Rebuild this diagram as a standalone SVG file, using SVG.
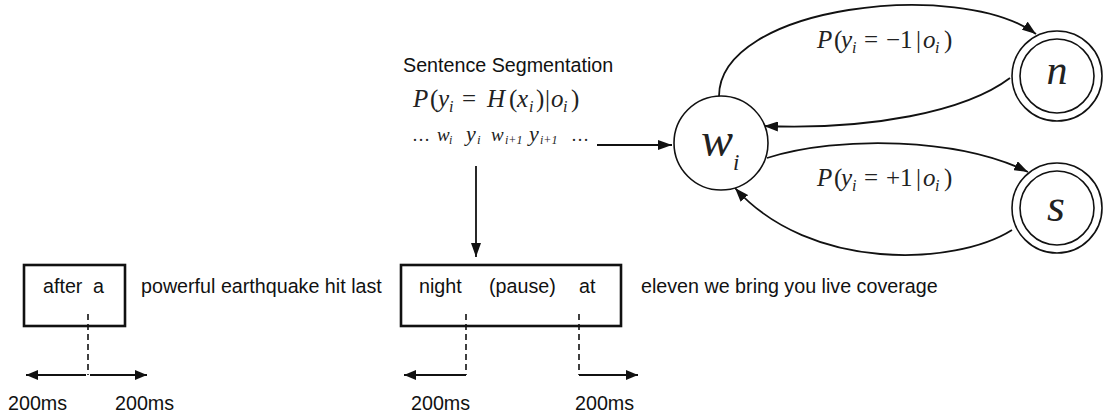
<svg xmlns="http://www.w3.org/2000/svg" width="1108" height="418" viewBox="0 0 1108 418">
<style>
.sans{font-family:"Liberation Sans",Arial,sans-serif;font-size:19.7px;fill:#111}
.math{font-family:"Liberation Serif","Times New Roman",serif;fill:#222}
.it{font-style:italic}
.sub{font-style:italic;font-size:16px}
.box{fill:#fff;stroke:#111;stroke-width:2.6}
.node{fill:#fff;stroke:#111;stroke-width:1.6}
.edge{fill:none;stroke:#111;stroke-width:1.8}
.dash{fill:none;stroke:#111;stroke-width:1.6;stroke-dasharray:6,4}
</style>
<defs>
<marker id="ah" viewBox="0 0 12 10" refX="12" refY="5" markerWidth="12" markerHeight="10" markerUnits="userSpaceOnUse" orient="auto">
<path d="M0,0 L12,5 L0,10 z" fill="#111"/>
</marker>
<marker id="ah2" viewBox="0 0 14 10" refX="14" refY="5" markerWidth="14" markerHeight="10" markerUnits="userSpaceOnUse" orient="auto">
<path d="M0,0 L14,5 L0,10 z" fill="#111"/>
</marker>
</defs>

<g id="connectors">
<line class="edge" x1="597" y1="145" x2="672" y2="145" marker-end="url(#ah2)"/>
<line class="edge" x1="476" y1="166" x2="476" y2="257" marker-end="url(#ah2)"/>
<path class="edge" d="M719,97 C718,5 960,-22 1036,34" marker-end="url(#ah2)"/>
<path class="edge" d="M1010,78 C965,112 870,130 764,126" marker-end="url(#ah2)"/>
<path class="edge" d="M767,158 C840,135 960,138 1028,172" marker-end="url(#ah2)"/>
<path class="edge" d="M1012,230 C955,266 810,272 735,188" marker-end="url(#ah2)"/>
</g>

<g id="label-seg">
<text class="sans" x="403" y="72">Sentence Segmentation</text>
<text class="math" font-size="25" y="107"><tspan x="413" class="it">P</tspan><tspan x="430">(</tspan><tspan x="438" class="it">y</tspan><tspan x="449" class="sub" dy="5">i</tspan><tspan x="462" dy="-5">=</tspan><tspan x="487" class="it">H</tspan><tspan x="509">(</tspan><tspan x="517" class="it">x</tspan><tspan x="529" class="sub" dy="5">i</tspan><tspan x="536" dy="-5">)</tspan><tspan x="545">|</tspan><tspan x="551" class="it">o</tspan><tspan x="563" class="sub" dy="5">i</tspan><tspan x="571" dy="-5">)</tspan></text>
</g>

<g id="sequence">
<text class="math" y="141"><tspan x="412" font-size="18">…</tspan><tspan x="437" class="it" font-size="19">w</tspan><tspan x="449" class="it" font-size="12" dy="3">i</tspan><tspan x="466" class="it" font-size="22" dy="-3">y</tspan><tspan x="477" class="it" font-size="13" dy="3">i</tspan><tspan x="491" class="it" font-size="19" dy="-3">w</tspan><tspan x="505" class="it" font-size="12" dy="3">i+1</tspan><tspan x="529" class="it" font-size="22" dy="-3">y</tspan><tspan x="540" class="it" font-size="12" dy="3">i+1</tspan><tspan x="571" font-size="18" dy="-3">…</tspan></text>
</g>

<g id="node-w">
<circle class="node" cx="721" cy="143" r="47"/>
<text class="math it" x="701" y="156" font-size="48">w</text>
<text class="math it" x="733" y="170" font-size="23">i</text>
</g>

<g id="node-n">
<circle class="node" cx="1057" cy="76" r="45"/>
<circle class="node" cx="1057" cy="76" r="37"/>
<text class="math it" x="1057" y="84" font-size="42" text-anchor="middle">n</text>
</g>

<g id="node-s">
<circle class="node" cx="1057" cy="208" r="45"/>
<circle class="node" cx="1057" cy="208" r="37"/>
<text class="math it" x="1056" y="221" font-size="46" text-anchor="middle">s</text>
</g>

<g id="label-neg">
<text class="math" font-size="25" y="48"><tspan x="817" class="it">P</tspan><tspan x="834">(</tspan><tspan x="841" class="it">y</tspan><tspan x="852" class="sub" dy="5">i</tspan><tspan x="864" dy="-5">=</tspan><tspan x="886">−1</tspan><tspan x="916">|</tspan><tspan x="923" class="it">o</tspan><tspan x="935" class="sub" dy="5">i</tspan><tspan x="944" dy="-5">)</tspan></text>
</g>

<g id="label-pos">
<text class="math" font-size="25" y="186"><tspan x="817" class="it">P</tspan><tspan x="834">(</tspan><tspan x="841" class="it">y</tspan><tspan x="852" class="sub" dy="5">i</tspan><tspan x="864" dy="-5">=</tspan><tspan x="886">+1</tspan><tspan x="916">|</tspan><tspan x="923" class="it">o</tspan><tspan x="935" class="sub" dy="5">i</tspan><tspan x="944" dy="-5">)</tspan></text>
</g>

<g id="box1">
<rect class="box" x="24" y="265" width="101" height="61"/>
<text class="sans" y="293"><tspan x="43">after</tspan><tspan x="93">a</tspan></text>
<text class="sans" x="141" y="293">powerful earthquake hit last</text>
<line class="dash" x1="88" y1="314" x2="88" y2="375"/>
<line class="edge" x1="86" y1="375" x2="26" y2="375" marker-end="url(#ah)"/>
<line class="edge" x1="90" y1="375" x2="147" y2="375" marker-end="url(#ah)"/>
<text class="sans" x="8" y="410">200ms</text>
<text class="sans" x="115" y="410">200ms</text>
</g>

<g id="box2">
<rect class="box" x="401" y="265" width="220" height="61"/>
<text class="sans" x="419" y="293">night</text>
<text class="sans" x="489" y="293">(pause)</text>
<text class="sans" x="579" y="293">at</text>
<text class="sans" x="641" y="293">eleven we bring you live coverage</text>
<line class="dash" x1="466" y1="314" x2="466" y2="375"/>
<line class="dash" x1="579" y1="314" x2="579" y2="375"/>
<line class="edge" x1="466" y1="375" x2="404" y2="375" marker-end="url(#ah)"/>
<line class="edge" x1="579" y1="375" x2="638" y2="375" marker-end="url(#ah)"/>
<text class="sans" x="411" y="410">200ms</text>
<text class="sans" x="575" y="410">200ms</text>
</g>
</svg>
